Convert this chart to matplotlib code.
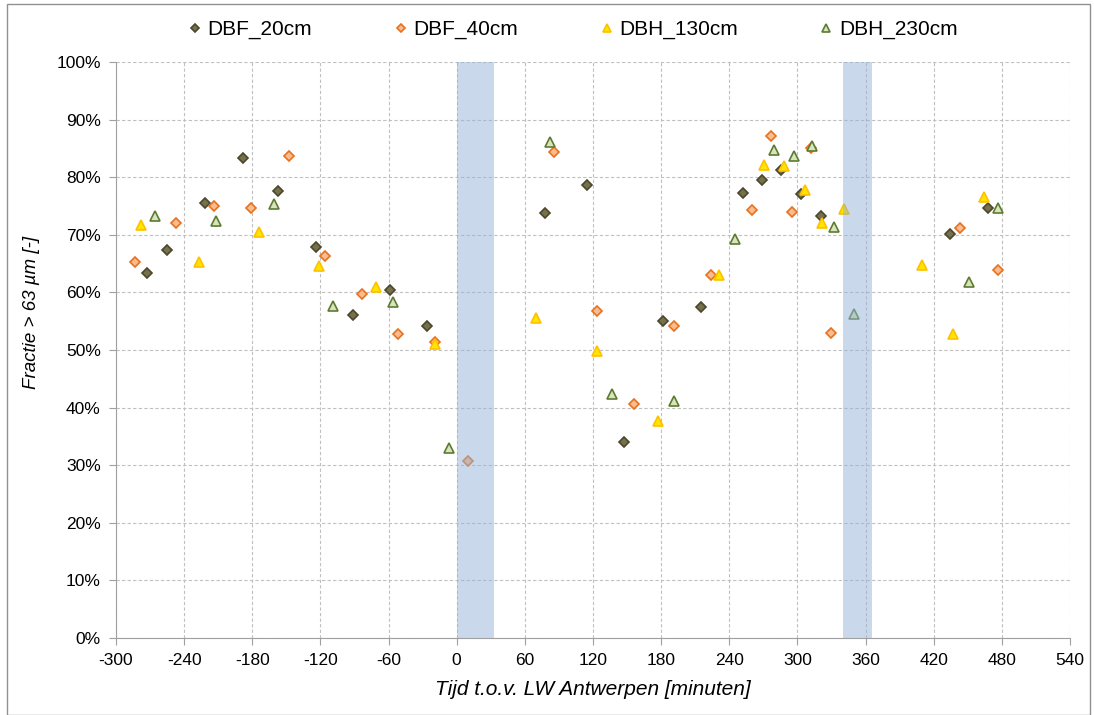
import matplotlib
matplotlib.use("Agg")
import matplotlib.pyplot as plt
from matplotlib.ticker import MultipleLocator, PercentFormatter

plt.rcParams['font.family'] = ['Liberation Sans', 'DejaVu Sans']
plt.rcParams['axes.unicode_minus'] = False

# tijd t.o.v. LW Antwerpen [minuten] en fractie > 63 um [%]
dbf20_x = [-273, -255, -222, -188, -157, -124, -91, -59, -26, 78, 115, 147, 182, 215, 252, 269, 286, 303, 321, 434, 468]
dbf20_y = [63.3, 67.3, 75.5, 83.3, 77.6, 67.8, 56.0, 60.5, 54.1, 73.8, 78.7, 34.0, 55.0, 57.5, 77.2, 79.5, 81.3, 77.1, 73.3, 70.2, 74.6]

dbf40_x = [-283, -247, -214, -181, -148, -116, -83, -52, -19, 10, 86, 124, 156, 191, 224, 260, 277, 295, 312, 330, 443, 477]
dbf40_y = [65.3, 72.1, 75.0, 74.6, 83.6, 66.3, 59.8, 52.8, 51.4, 30.8, 84.4, 56.8, 40.6, 54.2, 63.1, 74.3, 87.1, 73.9, 85.1, 52.9, 71.1, 63.9]

dbh130_x = [-278, -227, -174, -121, -71, -19, 70, 124, 177, 231, 271, 288, 307, 322, 341, 410, 437, 464]
dbh130_y = [71.7, 65.3, 70.5, 64.6, 61.0, 51.0, 55.5, 49.8, 37.6, 63.0, 82.1, 81.9, 77.8, 72.0, 74.4, 64.8, 52.7, 76.5]

dbh230_x = [-266, -212, -161, -109, -56, -7, 82, 137, 191, 245, 279, 297, 313, 332, 350, 451, 477]
dbh230_y = [73.2, 72.4, 75.3, 57.6, 58.4, 33.0, 86.1, 42.4, 41.1, 69.3, 84.7, 83.6, 85.4, 71.4, 56.2, 61.8, 74.6]

# laagwater-periodes
bands = [(0, 33), (340, 366)]

fig = plt.figure(figsize=(10.94, 7.15), dpi=100)
ax = fig.add_axes([0.106, 0.1077, 0.872, 0.8056])

ax.plot(dbf20_x, dbf20_y, 'D', ms=5.5, mfc='#77714a', mec='#4b472e', mew=1.2, label='DBF_20cm', zorder=3)
ax.plot(dbf40_x, dbf40_y, 'D', ms=5.5, mfc='#f9bc91', mec='#e8711c', mew=1.2, label='DBF_40cm', zorder=3)
ax.plot(dbh130_x, dbh130_y, '^', ms=6.5, mfc='#ffe600', mec='#ffc000', mew=1.2, label='DBH_130cm', zorder=3)
ax.plot(dbh230_x, dbh230_y, '^', ms=6.5, mfc='#d8e4bc', mec='#5d7a31', mew=1.2, label='DBH_230cm', zorder=3)

for a, b in bands:
    ax.axvspan(a, b, color='#95b3d7', alpha=0.5, lw=0, zorder=4)

ax.set_xlim(-300, 540)
ax.set_ylim(0, 100)
ax.xaxis.set_major_locator(MultipleLocator(60))
ax.yaxis.set_major_locator(MultipleLocator(10))
ax.yaxis.set_major_formatter(PercentFormatter(decimals=0))

ax.grid(True, ls=(0, (3, 2)), color='#c0c0c0', lw=0.8, zorder=0)
ax.set_axisbelow(True)
for s in ['top', 'right']:
    ax.spines[s].set_visible(False)
for s in ['left', 'bottom']:
    ax.spines[s].set_color('#a0a0a0')
ax.tick_params(direction='out', length=5, color='#a0a0a0', labelsize=12.5, pad=6)

ax.set_xlabel('Tijd t.o.v. LW Antwerpen [minuten]', fontsize=15, style='italic')
ax.xaxis.set_label_coords(0.5, -0.073)
ax.set_ylabel('Fractie > 63 µm [-]', fontsize=13.5, style='italic')
ax.yaxis.set_label_coords(-0.080, 0.566)

fig.legend(loc='upper center', bbox_to_anchor=(0.522, 0.998), ncol=4, frameon=False,
           fontsize=15, markerscale=0.8, handletextpad=0.1, columnspacing=3.75, handlelength=1)

fig.patches.append(plt.Rectangle((0.006, 0.0), 0.99, 0.995, transform=fig.transFigure,
                                 fill=False, ec='#909090', lw=1))

fig.savefig('out.png', dpi=100)
